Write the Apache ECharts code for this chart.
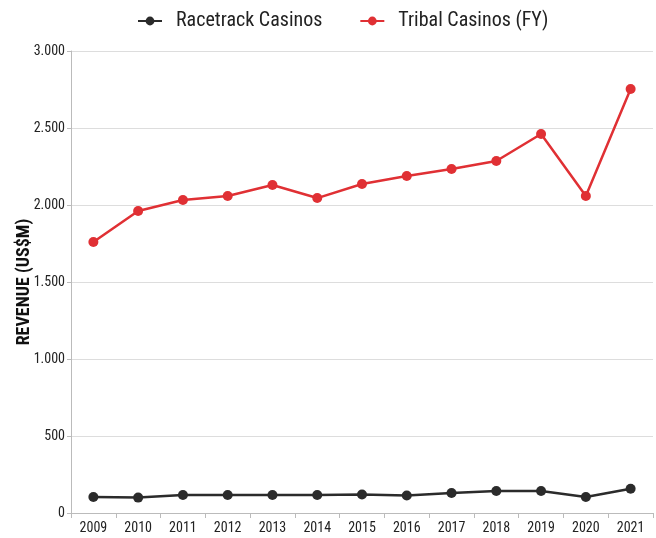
<!DOCTYPE html>
<html>
<head>
<meta charset="utf-8">
<script src="https://cdn.jsdelivr.net/npm/echarts@6/dist/echarts.min.js"></script>
<style>
  html, body { margin: 0; padding: 0; background: #fff; }
  #chart { width: 656px; height: 538px; }
</style>
</head>
<body>
<div id="chart"></div>
<script>
// Annual revenue, US$ millions
const years = ['2009','2010','2011','2012','2013','2014','2015','2016','2017','2018','2019','2020','2021'];
const racetrack = [104, 100, 117, 117, 117, 117, 120, 114, 130, 143, 143, 104, 157];
const tribal = [1760, 1961, 2032, 2058, 2130, 2045, 2136, 2188, 2234, 2286, 2461, 2058, 2753];

const FONT = '"Liberation Sans Narrow", "Roboto Condensed", "Liberation Sans", sans-serif';

function fmt(v) {
  return String(v).replace(/\B(?=(\d{3})+(?!\d))/g, '.');
}

const chart = echarts.init(document.getElementById('chart'));
chart.setOption({
  animation: false,
  textStyle: { fontFamily: FONT },
  legend: {
    top: 6,
    left: 132,
    itemGap: 37,
    itemWidth: 24,
    itemHeight: 11,
    textStyle: { fontFamily: FONT, fontSize: 20, color: '#222', padding: [0, 0, 0, 9] },
    data: ['Racetrack Casinos', 'Tribal Casinos (FY)']
  },
  grid: { left: 71, right: 3, top: 51, bottom: 25, outerBoundsMode: 'none', containLabel: false },
  xAxis: {
    type: 'category',
    data: years,
    boundaryGap: true,
    axisLine: { lineStyle: { color: '#bbb' } },
    axisTick: { show: true, length: 5, lineStyle: { color: '#bbb' } },
    axisLabel: { color: '#222', fontSize: 14, fontFamily: FONT, margin: 8 }
  },
  yAxis: {
    type: 'value',
    min: 0,
    max: 3000,
    interval: 500,
    name: 'REVENUE (US$M)',
    nameLocation: 'middle',
    nameGap: 38,
    nameMoveOverlap: false,
    nameTextStyle: { color: '#111', fontSize: 18, fontWeight: 'bold', fontFamily: FONT },
    axisLine: { show: true, lineStyle: { color: '#bbb' } },
    axisTick: { show: true, length: 4, lineStyle: { color: '#bbb' } },
    splitLine: { lineStyle: { color: '#ddd' } },
    axisLabel: { color: '#222', fontSize: 14, fontFamily: FONT, margin: 6, formatter: fmt }
  },
  series: [
    {
      name: 'Racetrack Casinos',
      type: 'line',
      data: racetrack,
      color: '#2b2b2b',
      symbol: 'circle',
      symbolSize: 10,
      lineStyle: { width: 2.5 }
    },
    {
      name: 'Tribal Casinos (FY)',
      type: 'line',
      data: tribal,
      color: '#e03034',
      symbol: 'circle',
      symbolSize: 10,
      lineStyle: { width: 2.5 }
    }
  ]
});
</script>
</body>
</html>
